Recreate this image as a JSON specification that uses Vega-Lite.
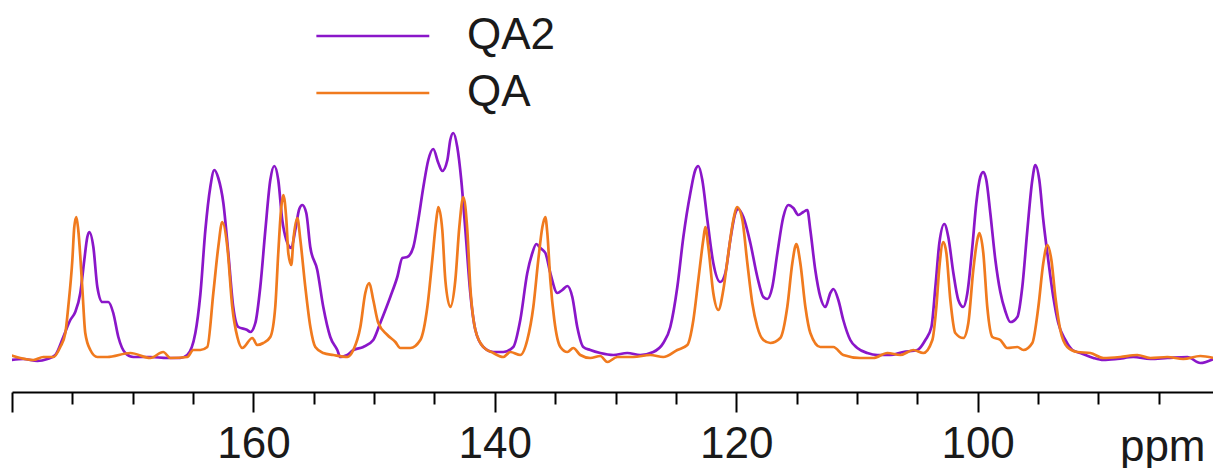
{
  "$schema": "https://vega.github.io/schema/vega-lite/v6.json",
  "autosize": "none",
  "width": 1201,
  "height": 392,
  "padding": {"left": 12, "top": 0, "right": 0, "bottom": 76},
  "background": "white",
  "config": {"view": {"stroke": null}},
  "datasets": {
    "qa2": [
      {"ppm": 180.14, "intensity": -3}, {"ppm": 179.06, "intensity": -2}, {"ppm": 177.9, "intensity": -4}, {"ppm": 177.07, "intensity": -2},
      {"ppm": 176.41, "intensity": 2}, {"ppm": 175.75, "intensity": 20}, {"ppm": 175.17, "intensity": 37}, {"ppm": 174.76, "intensity": 45},
      {"ppm": 174.34, "intensity": 64}, {"ppm": 174.01, "intensity": 97}, {"ppm": 173.76, "intensity": 120}, {"ppm": 173.6, "intensity": 125},
      {"ppm": 173.26, "intensity": 110}, {"ppm": 172.93, "intensity": 70}, {"ppm": 172.52, "intensity": 55}, {"ppm": 172.02, "intensity": 55},
      {"ppm": 171.61, "intensity": 44}, {"ppm": 171.19, "intensity": 20}, {"ppm": 170.61, "intensity": 4}, {"ppm": 169.95, "intensity": 0},
      {"ppm": 168.54, "intensity": 0}, {"ppm": 167.13, "intensity": -1}, {"ppm": 166.06, "intensity": -1}, {"ppm": 165.48, "intensity": 2},
      {"ppm": 164.81, "intensity": 24}, {"ppm": 164.4, "intensity": 62}, {"ppm": 163.98, "intensity": 127}, {"ppm": 163.57, "intensity": 170},
      {"ppm": 163.24, "intensity": 187}, {"ppm": 162.91, "intensity": 179}, {"ppm": 162.49, "intensity": 154}, {"ppm": 162.08, "intensity": 104},
      {"ppm": 161.67, "intensity": 50}, {"ppm": 161.25, "intensity": 30}, {"ppm": 160.51, "intensity": 27}, {"ppm": 160.26, "intensity": 25},
      {"ppm": 159.84, "intensity": 34}, {"ppm": 159.43, "intensity": 70}, {"ppm": 159.01, "intensity": 127}, {"ppm": 158.6, "intensity": 177},
      {"ppm": 158.27, "intensity": 191}, {"ppm": 157.94, "intensity": 177}, {"ppm": 157.61, "intensity": 137}, {"ppm": 157.27, "intensity": 117},
      {"ppm": 156.86, "intensity": 109}, {"ppm": 156.53, "intensity": 127}, {"ppm": 156.2, "intensity": 148}, {"ppm": 155.95, "intensity": 152},
      {"ppm": 155.62, "intensity": 144}, {"ppm": 155.29, "intensity": 110}, {"ppm": 154.71, "intensity": 87}, {"ppm": 154.21, "intensity": 50},
      {"ppm": 153.63, "intensity": 20}, {"ppm": 153.05, "intensity": 7}, {"ppm": 152.8, "intensity": 0}, {"ppm": 152.22, "intensity": 2},
      {"ppm": 151.72, "intensity": 7}, {"ppm": 150.9, "intensity": 10}, {"ppm": 150.07, "intensity": 17}, {"ppm": 149.49, "intensity": 34},
      {"ppm": 148.66, "intensity": 60}, {"ppm": 148.08, "intensity": 80}, {"ppm": 147.66, "intensity": 99}, {"ppm": 147.25, "intensity": 100},
      {"ppm": 146.75, "intensity": 110}, {"ppm": 146.34, "intensity": 137}, {"ppm": 145.92, "intensity": 170}, {"ppm": 145.51, "intensity": 197},
      {"ppm": 145.1, "intensity": 208}, {"ppm": 144.68, "intensity": 194}, {"ppm": 144.35, "intensity": 186}, {"ppm": 143.93, "intensity": 197},
      {"ppm": 143.69, "intensity": 217}, {"ppm": 143.44, "intensity": 224}, {"ppm": 143.11, "intensity": 210}, {"ppm": 142.78, "intensity": 177},
      {"ppm": 142.44, "intensity": 127}, {"ppm": 142.03, "intensity": 64}, {"ppm": 141.61, "intensity": 27}, {"ppm": 140.95, "intensity": 10},
      {"ppm": 140.12, "intensity": 5}, {"ppm": 139.3, "intensity": 5}, {"ppm": 138.47, "intensity": 10}, {"ppm": 137.89, "intensity": 37},
      {"ppm": 137.31, "intensity": 84}, {"ppm": 136.89, "intensity": 104}, {"ppm": 136.56, "intensity": 113}, {"ppm": 136.23, "intensity": 109},
      {"ppm": 135.81, "intensity": 104}, {"ppm": 135.4, "intensity": 84}, {"ppm": 134.82, "intensity": 64}, {"ppm": 134.41, "intensity": 67},
      {"ppm": 133.99, "intensity": 71}, {"ppm": 133.58, "intensity": 60}, {"ppm": 133.17, "intensity": 30}, {"ppm": 132.67, "intensity": 10},
      {"ppm": 132.09, "intensity": 7}, {"ppm": 131.26, "intensity": 4}, {"ppm": 130.18, "intensity": 2}, {"ppm": 129.02, "intensity": 4},
      {"ppm": 127.95, "intensity": 2}, {"ppm": 126.87, "intensity": 5}, {"ppm": 126.04, "intensity": 14}, {"ppm": 125.46, "intensity": 30},
      {"ppm": 124.88, "intensity": 70}, {"ppm": 124.38, "intensity": 120}, {"ppm": 123.8, "intensity": 164}, {"ppm": 123.39, "intensity": 187},
      {"ppm": 123.14, "intensity": 191}, {"ppm": 122.81, "intensity": 177}, {"ppm": 122.39, "intensity": 137}, {"ppm": 121.9, "intensity": 94},
      {"ppm": 121.32, "intensity": 75}, {"ppm": 120.9, "intensity": 84}, {"ppm": 120.49, "intensity": 117}, {"ppm": 120.07, "intensity": 144},
      {"ppm": 119.83, "intensity": 148}, {"ppm": 119.41, "intensity": 140}, {"ppm": 118.83, "intensity": 114}, {"ppm": 118.25, "intensity": 80},
      {"ppm": 117.75, "intensity": 60}, {"ppm": 117.42, "intensity": 58}, {"ppm": 117.01, "intensity": 70}, {"ppm": 116.59, "intensity": 104},
      {"ppm": 116.1, "intensity": 140}, {"ppm": 115.68, "intensity": 152}, {"ppm": 115.27, "intensity": 149}, {"ppm": 114.85, "intensity": 142},
      {"ppm": 114.44, "intensity": 145}, {"ppm": 114.11, "intensity": 147}, {"ppm": 113.86, "intensity": 127}, {"ppm": 113.45, "intensity": 87},
      {"ppm": 113.03, "intensity": 60}, {"ppm": 112.62, "intensity": 50}, {"ppm": 112.2, "intensity": 64}, {"ppm": 111.95, "intensity": 68},
      {"ppm": 111.54, "intensity": 57}, {"ppm": 111.13, "intensity": 37}, {"ppm": 110.55, "intensity": 17}, {"ppm": 109.97, "intensity": 9},
      {"ppm": 109.14, "intensity": 4}, {"ppm": 108.31, "intensity": 2}, {"ppm": 107.23, "intensity": 2}, {"ppm": 106.16, "intensity": 5},
      {"ppm": 104.99, "intensity": 7}, {"ppm": 104.33, "intensity": 17}, {"ppm": 103.83, "intensity": 30}, {"ppm": 103.5, "intensity": 70},
      {"ppm": 103.17, "intensity": 114}, {"ppm": 102.76, "intensity": 133}, {"ppm": 102.43, "intensity": 120}, {"ppm": 102.01, "intensity": 84},
      {"ppm": 101.6, "intensity": 57}, {"ppm": 101.19, "intensity": 50}, {"ppm": 100.85, "intensity": 64}, {"ppm": 100.44, "intensity": 110},
      {"ppm": 100.11, "intensity": 154}, {"ppm": 99.78, "intensity": 180}, {"ppm": 99.53, "intensity": 185}, {"ppm": 99.28, "intensity": 177},
      {"ppm": 98.95, "intensity": 144}, {"ppm": 98.53, "intensity": 97}, {"ppm": 98.12, "intensity": 65}, {"ppm": 97.71, "intensity": 46},
      {"ppm": 97.29, "intensity": 35}, {"ppm": 96.71, "intensity": 40}, {"ppm": 96.3, "intensity": 70}, {"ppm": 95.88, "intensity": 127},
      {"ppm": 95.47, "intensity": 177}, {"ppm": 95.22, "intensity": 192}, {"ppm": 94.89, "intensity": 177}, {"ppm": 94.56, "intensity": 137},
      {"ppm": 94.15, "intensity": 97}, {"ppm": 93.73, "intensity": 60}, {"ppm": 93.32, "intensity": 34}, {"ppm": 92.73, "intensity": 17},
      {"ppm": 92.15, "intensity": 7}, {"ppm": 91.49, "intensity": 4}, {"ppm": 90.41, "intensity": -1}, {"ppm": 89.58, "intensity": -3},
      {"ppm": 88.43, "intensity": -2}, {"ppm": 87.1, "intensity": 0}, {"ppm": 85.69, "intensity": -2}, {"ppm": 84.28, "intensity": -1},
      {"ppm": 82.63, "intensity": 0}, {"ppm": 81.55, "intensity": -6}, {"ppm": 80.47, "intensity": -2}
    ],
    "qa": [
      {"ppm": 180.14, "intensity": 2}, {"ppm": 179.31, "intensity": -1}, {"ppm": 178.23, "intensity": -3}, {"ppm": 177.41, "intensity": 0},
      {"ppm": 176.58, "intensity": 0}, {"ppm": 176.0, "intensity": 10}, {"ppm": 175.58, "intensity": 24}, {"ppm": 175.34, "intensity": 50},
      {"ppm": 175.0, "intensity": 97}, {"ppm": 174.84, "intensity": 130}, {"ppm": 174.67, "intensity": 140}, {"ppm": 174.51, "intensity": 127},
      {"ppm": 174.18, "intensity": 70}, {"ppm": 173.93, "intensity": 24}, {"ppm": 173.51, "intensity": 7}, {"ppm": 172.93, "intensity": 0},
      {"ppm": 172.1, "intensity": 0}, {"ppm": 170.2, "intensity": 4}, {"ppm": 168.54, "intensity": -1}, {"ppm": 167.47, "intensity": 5},
      {"ppm": 166.88, "intensity": -1}, {"ppm": 165.48, "intensity": 0}, {"ppm": 164.98, "intensity": 7}, {"ppm": 164.4, "intensity": 7},
      {"ppm": 163.82, "intensity": 10}, {"ppm": 163.32, "intensity": 64}, {"ppm": 162.91, "intensity": 110}, {"ppm": 162.58, "intensity": 135},
      {"ppm": 162.16, "intensity": 110}, {"ppm": 161.75, "intensity": 50}, {"ppm": 161.33, "intensity": 20}, {"ppm": 160.92, "intensity": 9},
      {"ppm": 160.09, "intensity": 19}, {"ppm": 159.68, "intensity": 12}, {"ppm": 159.18, "intensity": 14}, {"ppm": 158.6, "intensity": 20},
      {"ppm": 158.19, "intensity": 50}, {"ppm": 157.94, "intensity": 104}, {"ppm": 157.69, "intensity": 150}, {"ppm": 157.52, "intensity": 162},
      {"ppm": 157.27, "intensity": 137}, {"ppm": 157.11, "intensity": 104}, {"ppm": 156.86, "intensity": 92}, {"ppm": 156.69, "intensity": 117},
      {"ppm": 156.36, "intensity": 139}, {"ppm": 156.11, "intensity": 117}, {"ppm": 155.7, "intensity": 70}, {"ppm": 155.28, "intensity": 30},
      {"ppm": 154.87, "intensity": 10}, {"ppm": 154.21, "intensity": 4}, {"ppm": 153.38, "intensity": 2}, {"ppm": 152.22, "intensity": 0},
      {"ppm": 151.72, "intensity": 7}, {"ppm": 151.14, "intensity": 30}, {"ppm": 150.73, "intensity": 64}, {"ppm": 150.4, "intensity": 74},
      {"ppm": 150.07, "intensity": 57}, {"ppm": 149.65, "intensity": 34}, {"ppm": 148.9, "intensity": 22}, {"ppm": 148.24, "intensity": 15},
      {"ppm": 147.83, "intensity": 9}, {"ppm": 147.0, "intensity": 9}, {"ppm": 146.17, "intensity": 17}, {"ppm": 145.59, "intensity": 50},
      {"ppm": 145.18, "intensity": 97}, {"ppm": 144.85, "intensity": 137}, {"ppm": 144.68, "intensity": 150}, {"ppm": 144.35, "intensity": 127},
      {"ppm": 144.1, "intensity": 77}, {"ppm": 143.69, "intensity": 50}, {"ppm": 143.27, "intensity": 77}, {"ppm": 142.94, "intensity": 130},
      {"ppm": 142.61, "intensity": 160}, {"ppm": 142.28, "intensity": 127}, {"ppm": 142.03, "intensity": 70}, {"ppm": 141.61, "intensity": 27},
      {"ppm": 140.95, "intensity": 10}, {"ppm": 140.12, "intensity": 4}, {"ppm": 139.3, "intensity": 0}, {"ppm": 138.72, "intensity": 5},
      {"ppm": 137.89, "intensity": 2}, {"ppm": 137.31, "intensity": 17}, {"ppm": 136.81, "intensity": 50}, {"ppm": 136.4, "intensity": 97},
      {"ppm": 136.06, "intensity": 130}, {"ppm": 135.82, "intensity": 140}, {"ppm": 135.65, "intensity": 124}, {"ppm": 135.4, "intensity": 77},
      {"ppm": 135.07, "intensity": 37}, {"ppm": 134.57, "intensity": 10}, {"ppm": 133.99, "intensity": 5}, {"ppm": 133.5, "intensity": 9},
      {"ppm": 132.92, "intensity": 2}, {"ppm": 132.09, "intensity": -1}, {"ppm": 131.26, "intensity": 1}, {"ppm": 130.68, "intensity": -5},
      {"ppm": 129.85, "intensity": 0}, {"ppm": 128.53, "intensity": 0}, {"ppm": 127.12, "intensity": 2}, {"ppm": 126.04, "intensity": 0},
      {"ppm": 124.88, "intensity": 7}, {"ppm": 124.05, "intensity": 12}, {"ppm": 123.55, "intensity": 37}, {"ppm": 123.14, "intensity": 77},
      {"ppm": 122.73, "intensity": 117}, {"ppm": 122.56, "intensity": 130}, {"ppm": 122.31, "intensity": 110}, {"ppm": 121.9, "intensity": 64},
      {"ppm": 121.48, "intensity": 47}, {"ppm": 121.07, "intensity": 67}, {"ppm": 120.65, "intensity": 104}, {"ppm": 120.24, "intensity": 137},
      {"ppm": 119.91, "intensity": 150}, {"ppm": 119.49, "intensity": 137}, {"ppm": 119.08, "intensity": 94}, {"ppm": 118.67, "intensity": 54},
      {"ppm": 118.25, "intensity": 30}, {"ppm": 117.75, "intensity": 17}, {"ppm": 117.17, "intensity": 14}, {"ppm": 116.35, "intensity": 19},
      {"ppm": 115.77, "intensity": 50}, {"ppm": 115.35, "intensity": 94}, {"ppm": 115.02, "intensity": 113}, {"ppm": 114.69, "intensity": 94},
      {"ppm": 114.27, "intensity": 50}, {"ppm": 113.86, "intensity": 24}, {"ppm": 113.03, "intensity": 10}, {"ppm": 111.95, "intensity": 10},
      {"ppm": 111.13, "intensity": 2}, {"ppm": 109.72, "intensity": -1}, {"ppm": 108.64, "intensity": -1}, {"ppm": 107.48, "intensity": 4},
      {"ppm": 106.4, "intensity": 2}, {"ppm": 105.33, "intensity": 7}, {"ppm": 104.5, "intensity": 4}, {"ppm": 103.75, "intensity": 17},
      {"ppm": 103.42, "intensity": 50}, {"ppm": 103.17, "intensity": 90}, {"ppm": 102.84, "intensity": 115}, {"ppm": 102.59, "intensity": 104},
      {"ppm": 102.26, "intensity": 57}, {"ppm": 101.85, "intensity": 24}, {"ppm": 101.18, "intensity": 19}, {"ppm": 100.77, "intensity": 34},
      {"ppm": 100.36, "intensity": 87}, {"ppm": 100.03, "intensity": 117}, {"ppm": 99.86, "intensity": 124}, {"ppm": 99.53, "intensity": 104},
      {"ppm": 99.2, "intensity": 50}, {"ppm": 98.78, "intensity": 20}, {"ppm": 98.12, "intensity": 17}, {"ppm": 97.54, "intensity": 9},
      {"ppm": 96.71, "intensity": 10}, {"ppm": 96.21, "intensity": 7}, {"ppm": 95.47, "intensity": 14}, {"ppm": 94.97, "intensity": 50},
      {"ppm": 94.56, "intensity": 94}, {"ppm": 94.22, "intensity": 112}, {"ppm": 93.89, "intensity": 97}, {"ppm": 93.56, "intensity": 60},
      {"ppm": 93.15, "intensity": 27}, {"ppm": 92.57, "intensity": 10}, {"ppm": 91.74, "intensity": 5}, {"ppm": 90.66, "intensity": 4},
      {"ppm": 89.58, "intensity": -1}, {"ppm": 88.18, "intensity": 0}, {"ppm": 86.77, "intensity": 2}, {"ppm": 85.69, "intensity": -1},
      {"ppm": 84.28, "intensity": 0}, {"ppm": 82.96, "intensity": -2}, {"ppm": 81.55, "intensity": 1}, {"ppm": 80.47, "intensity": -1}
    ]
  },
  "encoding": {
    "x": {
      "field": "ppm",
      "type": "quantitative",
      "scale": {"domain": [180, 80.5], "nice": false, "zero": false},
      "axis": {
        "values": [180, 175, 170, 165, 160, 155, 150, 145, 140, 135, 130, 125, 120, 115, 110, 105, 100, 95, 90, 85],
        "grid": false,
        "domainColor": "#000000",
        "domainWidth": 2,
        "tickColor": "#000000",
        "tickWidth": 2,
        "tickSize": {"condition": {"test": "datum.value % 20 === 0", "value": 20}, "value": 12},
        "labelExpr": "datum.value >= 100 && datum.value <= 160 && datum.value % 20 === 0 ? datum.label : ''",
        "labelFont": "Liberation Sans",
        "labelFontSize": 44,
        "labelColor": "#1a1a1a",
        "labelBaseline": "alphabetic",
        "labelPadding": 45,
        "labelFlush": false,
        "labelOverlap": false,
        "title": "ppm",
        "titleFont": "Liberation Sans",
        "titleFontSize": 44,
        "titleFontWeight": "normal",
        "titleColor": "#1a1a1a",
        "titleAnchor": "end",
        "titleAlign": "right",
        "titleBaseline": "alphabetic",
        "titleX": 1193,
        "titleY": 68
      }
    },
    "y": {
      "field": "intensity",
      "type": "quantitative",
      "scale": {"domain": [-35, 357], "nice": false, "zero": false},
      "axis": null
    },
    "color": {
      "field": "sample",
      "type": "nominal",
      "scale": {"domain": ["QA2", "QA"], "range": ["#8A16C9", "#F07A1E"]},
      "legend": {
        "title": null,
        "orient": "none",
        "legendX": 384,
        "legendY": 14,
        "padding": 0,
        "symbolType": "M-9,0H1",
        "symbolSize": 510,
        "symbolStrokeWidth": 2.6,
        "labelFont": "Liberation Sans",
        "labelFontSize": 44,
        "labelColor": "#1a1a1a",
        "labelOffset": 27,
        "rowPadding": 13
      }
    }
  },
  "layer": [
    {
      "data": {"name": "qa2"},
      "transform": [{"calculate": "'QA2'", "as": "sample"}],
      "mark": {"type": "line", "strokeWidth": 2.7, "interpolate": "monotone", "clip": true}
    },
    {
      "data": {"name": "qa"},
      "transform": [{"calculate": "'QA'", "as": "sample"}],
      "mark": {"type": "line", "strokeWidth": 2.7, "interpolate": "monotone", "clip": true}
    }
  ]
}
